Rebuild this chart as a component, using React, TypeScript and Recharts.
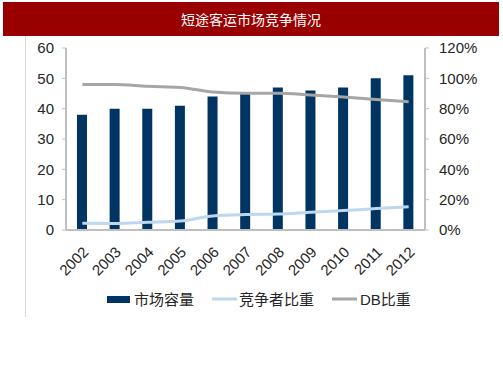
import React from 'react';
import { ComposedChart, Bar, Line, XAxis, YAxis, Legend } from 'recharts';

const years = ['2002', '2003', '2004', '2005', '2006', '2007', '2008', '2009', '2010', '2011', '2012'];
const marketSize = [38, 40, 40, 41, 44, 45, 47, 46, 47, 50, 51];
const competitorShare = [4.4, 4.3, 5.1, 5.9, 9.3, 10.2, 10.5, 11.7, 12.8, 14.1, 15.4];
const dbShare = [96, 96, 94.7, 94, 91, 90.2, 90.2, 89, 87.7, 86, 84.6];
const leftTicks = [0, 10, 20, 30, 40, 50, 60];
const rightTicks = [0, 20, 40, 60, 80, 100, 120];
const seriesNames = ['市场容量', '竞争者比重', 'DB比重'];
const title = '短途客运市场竞争情况';

const data = years.map((y, i) => ({
  year: y,
  market: marketSize[i],
  competitor: competitorShare[i],
  db: dbShare[i],
}));

const FONT = "Arial, 'Liberation Sans', 'Noto Sans CJK SC', sans-serif";
const BAR = '#003462';
const LIGHT = '#bcd7ee';
const GRAY = '#a6a6a6';
const AXIS = '#bfbfbf';
const TEXT = '#262626';

const XTick = (props: any) => {
  const { x, y, payload } = props;
  return (
    <g transform={`translate(${x + 7},${y + 21})`}>
      <text x={0} y={0} textAnchor="end" transform="rotate(-45)" fontSize={15} fill={TEXT} fontFamily={FONT}>
        {payload.value}
      </text>
    </g>
  );
};

const LegendContent = () => (
  <svg width={503} height={24} style={{ display: 'block' }}>
    <rect x={107} y={8} width={23} height={7} fill={BAR} />
    <text x={134} y={17} fontSize={15} fill={TEXT} fontFamily={FONT}>{seriesNames[0]}</text>
    <line x1={212} x2={237} y1={11} y2={11} stroke={LIGHT} strokeWidth={3} />
    <text x={239} y={17} fontSize={15} fill={TEXT} fontFamily={FONT}>{seriesNames[1]}</text>
    <line x1={332} x2={357} y1={11} y2={11} stroke={GRAY} strokeWidth={3} />
    <text x={360} y={17} fontSize={15} fill={TEXT} fontFamily={FONT}>{seriesNames[2]}</text>
  </svg>
);

export default function App() {
  return (
    <div style={{ position: 'fixed', left: 0, top: 0, width: 503, height: 378, background: '#fff' }}>
      <div
        style={{
          position: 'absolute', left: 3, top: 2, width: 496, height: 34, background: '#990000',
          color: '#fff', fontSize: 14, lineHeight: '34px', textAlign: 'center',
          fontFamily: "'Noto Sans CJK SC', sans-serif",
        }}
      >
        {title}
      </div>
      <div style={{ position: 'absolute', left: 25, top: 36, width: 1, height: 281, background: '#d9d9d9' }} />
      <div style={{ position: 'absolute', left: 0, top: 0 }}>
        <ComposedChart width={503} height={378} data={data} margin={{ top: 48, right: 0, bottom: 88, left: 0 }}>
          <XAxis
            dataKey="year"
            height={60}
            tick={<XTick />}
            tickLine={false}
            tickSize={0}
            axisLine={{ stroke: AXIS, strokeWidth: 2 }}
            interval={0}
          />
          <YAxis
            yAxisId="left"
            orientation="left"
            width={66}
            domain={[0, 60]}
            ticks={leftTicks}
            tickSize={4}
            tickMargin={8}
            tickLine={{ stroke: AXIS }}
            axisLine={{ stroke: AXIS, strokeWidth: 2 }}
            tick={{ fontSize: 15, fill: TEXT, fontFamily: FONT }}
          />
          <YAxis
            yAxisId="right"
            orientation="right"
            width={78}
            domain={[0, 120]}
            ticks={rightTicks}
            tickFormatter={(v: number) => `${v}%`}
            tickSize={4}
            tickMargin={10}
            tickLine={{ stroke: AXIS }}
            axisLine={{ stroke: AXIS, strokeWidth: 2 }}
            tick={{ fontSize: 15, fill: TEXT, fontFamily: FONT }}
          />
          <Legend verticalAlign="middle" align="center" content={<LegendContent />} wrapperStyle={{ left: 0, top: 288, width: 503 }} />
          <Bar yAxisId="left" dataKey="market" name={seriesNames[0]} fill={BAR} barSize={10} isAnimationActive={false} />
          <Line yAxisId="right" type="monotone" dataKey="competitor" name={seriesNames[1]} stroke={LIGHT} strokeWidth={3} dot={false} isAnimationActive={false} />
          <Line yAxisId="right" type="monotone" dataKey="db" name={seriesNames[2]} stroke={GRAY} strokeWidth={3} dot={false} isAnimationActive={false} />
        </ComposedChart>
      </div>
    </div>
  );
}
